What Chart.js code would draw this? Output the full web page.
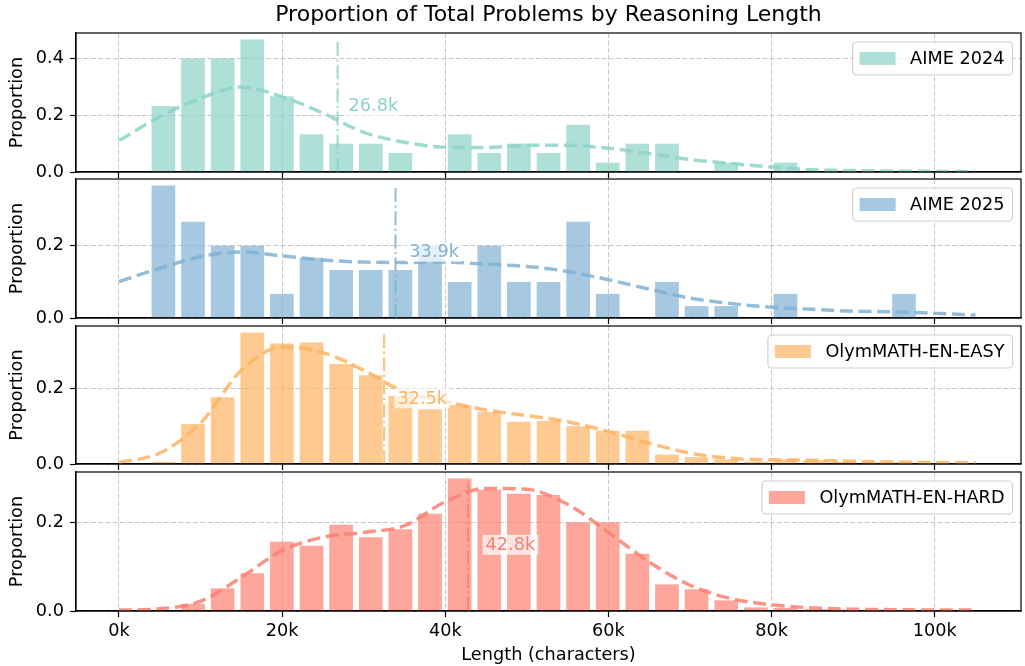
<!DOCTYPE html>
<html>
<head>
<meta charset="utf-8">
<script src="https://cdn.jsdelivr.net/npm/chart.js@4.4.1/dist/chart.umd.min.js"></script>
<style>
    body { margin: 0; background: #fff; width: 1025px; height: 666px; overflow: hidden; position: relative; }
    .panel { position: absolute; left: 0; width: 1025px; }
</style>
</head>
<body>
<div class="panel" id="p0"><canvas id="c0"></canvas></div>
<div class="panel" id="p1"><canvas id="c1"></canvas></div>
<div class="panel" id="p2"><canvas id="c2"></canvas></div>
<div class="panel" id="p3"><canvas id="c3"></canvas></div>
<script>
// --- Data (lengths in thousands of characters) ---

const chartTitle = 'Proportion of Total Problems by Reasoning Length';
const seriesNames = ['AIME 2024', 'AIME 2025', 'OlymMATH-EN-EASY', 'OlymMATH-EN-HARD'];
const seriesColors = ['#8dd3c7', '#80b1d3', '#fdb462', '#fb8072'];
const meanLengths = [26.8, 33.9, 32.5, 42.8];

// histogram bins of equal width starting at 0k
const binWidth = 3.631;
const aime24Bars = [0, 0.233, 0.4, 0.4, 0.467, 0.267, 0.133, 0.1, 0.1, 0.067, 0, 0.133, 0.067, 0.1, 0.067, 0.167, 0.033, 0.1, 0.1, 0, 0.033, 0, 0.033, 0, 0, 0, 0, 0, 0];
const aime25Bars = [0, 0.367, 0.267, 0.2, 0.2, 0.067, 0.167, 0.133, 0.133, 0.133, 0.2, 0.1, 0.2, 0.1, 0.1, 0.267, 0.067, 0, 0.1, 0.033, 0.033, 0, 0.067, 0, 0, 0, 0.067, 0, 0];
const easyBars = [0, 0.006, 0.106, 0.177, 0.348, 0.319, 0.322, 0.265, 0.235, 0.18, 0.145, 0.156, 0.138, 0.112, 0.114, 0.1, 0.088, 0.088, 0.025, 0.018, 0.012, 0.006, 0.012, 0.01, 0.006, 0.004, 0.004, 0.003, 0.002];
const hardBars = [0, 0, 0.016, 0.051, 0.085, 0.156, 0.147, 0.194, 0.166, 0.184, 0.219, 0.298, 0.273, 0.264, 0.261, 0.2, 0.2, 0.129, 0.06, 0.049, 0.024, 0.008, 0.007, 0.004, 0.003, 0.003, 0.002, 0.002, 0.001];

// density curves, read at these lengths
const kdeX = [0, 5, 10, 15, 20, 25, 30, 35, 40, 45, 50, 55, 60, 65, 70, 75, 80, 85, 90, 95, 100, 105];
const aime24Kde = [0.111, 0.195, 0.26, 0.30, 0.265, 0.208, 0.14, 0.105, 0.087, 0.086, 0.094, 0.094, 0.084, 0.065, 0.044, 0.03, 0.018, 0.008, 0.005, 0.003, 0.002, 0.001];
const aime25Kde = [0.101, 0.138, 0.17, 0.183, 0.172, 0.161, 0.155, 0.154, 0.155, 0.149, 0.143, 0.129, 0.106, 0.08, 0.055, 0.04, 0.03, 0.024, 0.019, 0.017, 0.013, 0.008];
const easyKde = [0.004, 0.029, 0.108, 0.248, 0.31, 0.295, 0.248, 0.191, 0.165, 0.143, 0.128, 0.112, 0.086, 0.055, 0.029, 0.015, 0.011, 0.01, 0.007, 0.005, 0.004, 0.003];
const hardKde = [0.002, 0.005, 0.022, 0.076, 0.136, 0.166, 0.177, 0.192, 0.246, 0.276, 0.274, 0.24, 0.177, 0.11, 0.058, 0.028, 0.014, 0.007, 0.004, 0.003, 0.002, 0.002];

const xTicks = [0, 20, 40, 60, 80, 100];
const yTicks = [0, 0.2, 0.4];
const xMin = -5.27, xMax = 110.57;

const allBars = [aime24Bars, aime25Bars, easyBars, hardBars];
const allKde = [aime24Kde, aime25Kde, easyKde, hardKde];

// --- Layout ---

const FONT = '"DejaVu Sans", sans-serif';
const panelTops = [33, 179, 326, 472];
const panelBottoms = [172, 318, 464, 611];
const gridColor = 'rgba(176,176,176,0.7)';

function rgba(hex, a) {
    const n = parseInt(hex.slice(1), 16);
    return `rgba(${n >> 16},${(n >> 8) & 255},${n & 255},${a})`;
}

function roundRect(ctx, x, y, w, h, r) {
    ctx.beginPath();
    ctx.moveTo(x + r, y);
    ctx.arcTo(x + w, y, x + w, y + h, r);
    ctx.arcTo(x + w, y + h, x, y + h, r);
    ctx.arcTo(x, y + h, x, y, r);
    ctx.arcTo(x, y, x + w, y, r);
    ctx.closePath();
}

// no extra room for half tick labels: the panels are placed by hand
function noPadding(s) {
    s.paddingTop = 0;
    s.paddingBottom = 0;
    s.paddingLeft = 0;
    s.paddingRight = 0;
}

// frame, mean label and legend box
function decorPlugin(idx) {
    return {
        id: 'decor' + idx,
        afterDraw(chart) {
            const { ctx, chartArea: a, scales } = chart;
            const color = seriesColors[idx];
            const maxBar = Math.max(...allBars[idx]);
            ctx.save();

            // mean label
            const mean = meanLengths[idx];
            const label = mean.toFixed(1) + 'k';
            ctx.font = `17.7px ${FONT}`;
            const tx = scales.x.getPixelForValue(mean * 1.05);
            const ty = scales.y.getPixelForValue(maxBar / 2);
            const tw = ctx.measureText(label).width;
            ctx.fillStyle = 'rgba(255,255,255,0.7)';
            ctx.fillRect(tx - 3, ty - 10, tw + 6, 20);
            ctx.fillStyle = color;
            ctx.textBaseline = 'middle';
            ctx.textAlign = 'left';
            ctx.fillText(label, tx, ty + 1);

            // legend
            const name = seriesNames[idx];
            const nw = ctx.measureText(name).width;
            const boxW = 7 + 36 + 14.5 + nw + 8;
            const boxH = 33;
            const bx = a.right - 8.5 - boxW;
            const by = a.top + 9;
            roundRect(ctx, bx, by, boxW, boxH, 4);
            ctx.fillStyle = 'rgba(255,255,255,0.8)';
            ctx.fill();
            ctx.strokeStyle = '#d0d0d0';
            ctx.lineWidth = 1.2;
            ctx.stroke();
            ctx.fillStyle = rgba(color, 0.7);
            ctx.fillRect(bx + 7, by + boxH / 2 - 6.5, 36, 13);
            ctx.fillStyle = '#000';
            ctx.fillText(name, bx + 7 + 36 + 14.5, by + boxH / 2 + 1);

            // full frame
            ctx.strokeStyle = '#000';
            ctx.lineWidth = 1.2;
            ctx.strokeRect(a.left, a.top, a.right - a.left, a.bottom - a.top);
            ctx.restore();
        }
    };
}

function makePanel(idx) {
    const isFirst = idx === 0, isLast = idx === 3;
    const top = panelTops[idx], bottom = panelBottoms[idx];
    const canvasTop = isFirst ? 0 : top - 3;
    const canvasBottom = isLast ? 666 : bottom + 8;
    const div = document.getElementById('p' + idx);
    div.style.top = canvasTop + 'px';
    div.style.height = (canvasBottom - canvasTop) + 'px';
    const xAxisH = canvasBottom - bottom;

    const color = seriesColors[idx];
    const bars = allBars[idx];
    const maxBar = Math.max(...bars);
    const mean = meanLengths[idx];

    const tickFont = { family: FONT, size: 17.7 };

    new Chart(document.getElementById('c' + idx), {
        type: 'bar',
        data: {
            datasets: [
                {
                    type: 'bar',
                    label: seriesNames[idx],
                    data: bars.map((v, i) => ({ x: (i + 0.5) * binWidth, y: v })),
                    backgroundColor: rgba(color, 0.7),
                    borderWidth: 0,
                    barPercentage: 0.8,
                    categoryPercentage: 1,
                    order: 3
                },
                {
                    type: 'line',
                    data: kdeX.map((x, i) => ({ x: x, y: allKde[idx][i] })),
                    borderColor: rgba(color, 0.85),
                    borderWidth: 3.5,
                    borderDash: [13, 5.7],
                    pointRadius: 0,
                    cubicInterpolationMode: 'monotone',
                    order: 2
                },
                {
                    type: 'line',
                    data: [{ x: mean, y: 0 }, { x: mean, y: maxBar }],
                    borderColor: rgba(color, 0.8),
                    borderWidth: 2.2,
                    borderDash: [14, 3.5, 2.2, 3.5],
                    pointRadius: 0,
                    order: 1
                }
            ]
        },
        options: {
            responsive: true,
            maintainAspectRatio: false,
            animation: false,
            layout: { padding: { left: 0, right: 4, top: isFirst ? 0 : 3, bottom: 0 } },
            plugins: {
                legend: { display: false },
                tooltip: { enabled: false },
                title: {
                    display: isFirst,
                    text: chartTitle,
                    fullSize: false,
                    color: '#000',
                    font: { family: FONT, size: 22, weight: 'normal' },
                    padding: { top: 2.5, bottom: 4.1 }
                }
            },
            scales: {
                x: {
                    type: 'linear',
                    min: xMin,
                    max: xMax,
                    offset: false,
                    afterBuildTicks: s => { s.ticks = xTicks.map(v => ({ value: v })); },
                    afterFit: s => { s.height = xAxisH; noPadding(s); },
                    grid: { offset: false, color: gridColor, lineWidth: 1, tickLength: 6, tickColor: '#000', tickWidth: 1.2, tickBorderDash: [] },
                    border: { color: '#000', width: 1.2, dash: [5, 2.3] },
                    ticks: {
                        display: isLast, color: '#000', font: tickFont, padding: 4,
                        maxRotation: 0, autoSkip: false,
                        callback: v => v + 'k'
                    },
                    title: {
                        display: isLast, text: 'Length (characters)', color: '#000',
                        font: tickFont, padding: { top: 0, bottom: 0 }
                    }
                },
                y: {
                    min: 0,
                    max: maxBar * 1.05,
                    afterBuildTicks: s => { s.ticks = yTicks.filter(v => v <= s.max).map(v => ({ value: v })); },
                    afterFit: s => { s.width = 76; noPadding(s); },
                    grid: { color: gridColor, lineWidth: 1, tickLength: 6, tickColor: '#000', tickWidth: 1.2, tickBorderDash: [] },
                    border: { color: '#000', width: 1.2, dash: [5, 2.3] },
                    ticks: { color: '#000', font: tickFont, padding: 6, callback: v => v.toFixed(1) },
                    title: {
                        display: true, text: 'Proportion', color: '#000',
                        font: tickFont, padding: { top: 6.5, bottom: 0 }
                    }
                }
            }
        },
        plugins: [decorPlugin(idx)]
    });
}

[0, 1, 2, 3].forEach(makePanel);
</script>
</body>
</html>
